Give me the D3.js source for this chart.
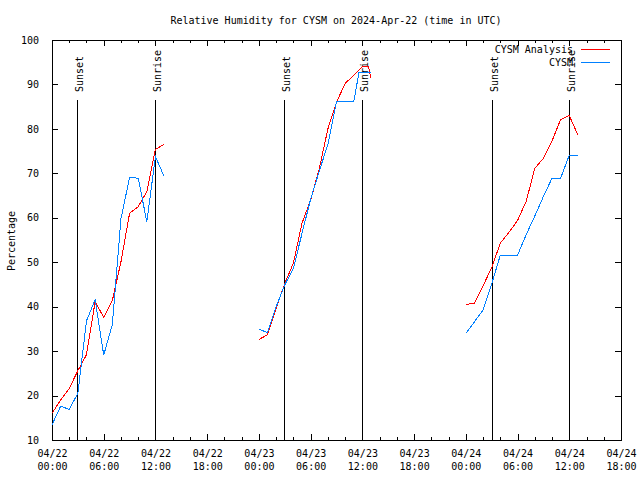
<!DOCTYPE html>
<html><head><meta charset="utf-8">
<script src="https://cdn.jsdelivr.net/npm/d3@7/dist/d3.min.js"></script>
<style>
body{margin:0;background:#fff}
text{font-family:"DejaVu Sans Mono",monospace;font-size:10px;fill:#000}
</style>
</head><body>
<svg id="chart" width="640" height="480"></svg>
<script>
// ---------- data ----------
const chartTitle = "Relative Humidity for CYSM on 2024-Apr-22 (time in UTC)";
const yAxisLabel = "Percentage";
const seriesNames = ["CYSM Analysis", "CYSM"];
const seriesColors = ["#ff0000", "#0080ff"];

const yTicks = [10, 20, 30, 40, 50, 60, 70, 80, 90, 100];
// hours since 2024-04-22 00:00 UTC
const xTickHours = [0, 6, 12, 18, 24, 30, 36, 42, 48, 54, 60, 66];
const xTickDates = ["04/22","04/22","04/22","04/22","04/23","04/23","04/23","04/23","04/24","04/24","04/24","04/24"];
const xTickTimes = ["00:00","06:00","12:00","18:00","00:00","06:00","12:00","18:00","00:00","06:00","12:00","18:00"];

const analysisHours = [0,1,2,3,4,5,6,7,8,9,10,11,12,13,
                       24,25,26,27,28,29,30,31,32,33,34,35,36,36.7,37,
                       48,49,50,51,52,53,54,55,56,57,58,59,60,61];
const analysisRH = [16.0,19.0,21.6,25.6,29.2,41.1,37.6,41.4,50.1,61.0,62.5,65.9,75.4,76.5,
                    32.6,33.7,39.6,45.2,49.8,58.8,64.0,71.0,80.0,86.0,90.2,92.1,94.0,94.0,91.4,
                    40.5,40.8,44.7,48.8,54.3,56.7,59.4,63.7,71.1,73.4,77.3,82.1,83.0,78.6];

const obsHours = [0,1,2,3,4,5,6,7,8,9,10,11,12,13,
                  24,25,26,27,28,29,30,31,32,33,34,35,35.6,36,37,
                  48,49,50,51,52,53,54,55,56,57,58,59,60,61];
const obsRH = [13.4,17.6,16.9,20.5,36.8,41.6,29.1,36.0,59.8,69.1,68.9,59.1,73.8,69.3,
               34.9,34.2,40.0,44.9,48.6,56.5,64.2,70.5,76.5,86.1,86.1,86.1,92.6,92.6,92.6,
               34.0,36.6,39.2,45.1,51.6,51.6,51.6,56.2,60.4,64.8,68.9,68.9,74.1,74.1];

const sunsetHours = [2.94, 26.95, 51.05];
const sunriseHours = [11.98, 35.93, 59.93];

// ---------- layout ----------
const L = 52, R = 621, T = 40, B = 440;
const svg = d3.select("#chart");
svg.append("rect").attr("width",640).attr("height",480).attr("fill","#fff");

const x = d3.scaleLinear().domain([0, 66]).range([L, R]);
const y = d3.scaleLinear().domain([10, 100]).range([B, T]);

const minorHours = d3.range(0, 67, 2).filter(h => h % 6 !== 0);

// axes (inward ticks)
const gB = svg.append("g").attr("transform", `translate(0,${B})`)
  .call(d3.axisBottom(x).tickValues(xTickHours).tickSizeInner(-6).tickSizeOuter(0).tickPadding(9).tickFormat(""));
gB.selectAll(".tick").each(function(d, i){
  const t = d3.select(this).append("text").attr("fill","#000").attr("text-anchor","middle");
  t.append("tspan").attr("x",0).attr("y",17).text(xTickDates[i]);
  t.append("tspan").attr("x",0).attr("y",30).text(xTickTimes[i]);
});
svg.append("g").attr("transform", `translate(0,${B})`)
  .call(d3.axisBottom(x).tickValues(minorHours).tickSizeInner(-3).tickSizeOuter(0).tickFormat(""))
  .select(".domain").remove();

svg.append("g").attr("transform", `translate(0,${T})`)
  .call(d3.axisTop(x).tickValues(xTickHours).tickSizeInner(-6).tickSizeOuter(0).tickFormat(""));
svg.append("g").attr("transform", `translate(0,${T})`)
  .call(d3.axisTop(x).tickValues(minorHours).tickSizeInner(-3).tickSizeOuter(0).tickFormat(""))
  .select(".domain").remove();

svg.append("g").attr("transform", `translate(${L},0)`)
  .call(d3.axisLeft(y).tickValues(yTicks).tickSizeInner(-6).tickSizeOuter(0).tickPadding(13));
svg.append("g").attr("transform", `translate(${R},0)`)
  .call(d3.axisRight(y).tickValues(yTicks).tickSizeInner(-6).tickSizeOuter(0).tickFormat(""));

svg.selectAll(".domain, .tick line").attr("stroke","#000").attr("shape-rendering","crispEdges");
svg.selectAll(".tick text").attr("font-size",null).attr("font-family",null);

// sunset / sunrise markers
const sunEvents = sunsetHours.map(h => ({h, label:"Sunset"}))
  .concat(sunriseHours.map(h => ({h, label:"Sunrise"})));
const yTop = y(10 + 0.85 * 90);
sunEvents.forEach(e => {
  const xp = Math.round(x(e.h)) + 0.5;
  svg.append("line").attr("x1",xp).attr("x2",xp).attr("y1",B).attr("y2",yTop)
    .attr("stroke","#000").attr("stroke-width",1).attr("shape-rendering","crispEdges");
  svg.append("text").attr("transform",`translate(${xp+5},92) rotate(-90)`)
    .attr("text-anchor","start").text(e.label);
});

// series
function withGaps(hours, vals){
  const out = [];
  hours.forEach((h, i) => {
    if (i > 0 && h - hours[i-1] > 3) out.push(null);
    out.push({h, v: vals[i]});
  });
  return out;
}
const line = d3.line().defined(d => d !== null).x(d => x(d.h)).y(d => y(d.v));
[[analysisHours, analysisRH], [obsHours, obsRH]].forEach((s, i) => {
  svg.append("path").datum(withGaps(s[0], s[1]))
    .attr("fill","none").attr("stroke",seriesColors[i]).attr("stroke-width",1)
    .attr("shape-rendering","crispEdges").attr("d", line);
});

// legend
seriesNames.forEach((n, i) => {
  const ly = 49.5 + i * 13;
  svg.append("text").attr("x",573).attr("y",ly).attr("dy","0.35em")
    .attr("text-anchor","end").text(n);
  svg.append("line").attr("x1",581).attr("x2",610).attr("y1",ly).attr("y2",ly)
    .attr("stroke",seriesColors[i]).attr("stroke-width",1).attr("shape-rendering","crispEdges");
});

// title and y label
svg.append("text").attr("x",336).attr("y",20).attr("dy","0.35em")
  .attr("text-anchor","middle").text(chartTitle);
svg.append("text").attr("transform","translate(11,241) rotate(-90)").attr("dy","0.35em")
  .attr("text-anchor","middle").text(yAxisLabel);
</script>
</body></html>
